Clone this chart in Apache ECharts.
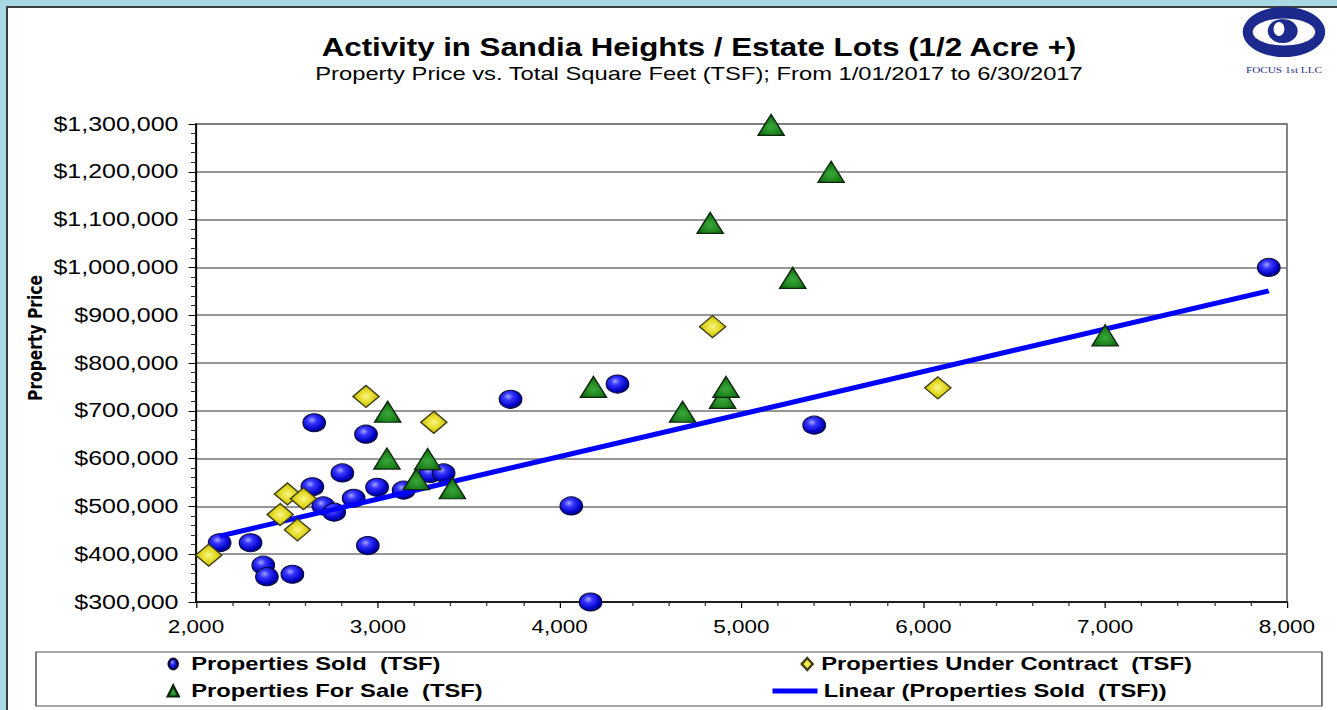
<!DOCTYPE html>
<html>
<head>
<meta charset="utf-8">
<title>Activity in Sandia Heights / Estate Lots</title>
<script src="https://cdn.jsdelivr.net/npm/echarts@6/dist/echarts.min.js"></script>
<style>
  html, body { margin: 0; padding: 0; width: 1337px; height: 710px; overflow: hidden; background: #a9d9e3; }
  #panel { position: absolute; left: 6px; top: 6px; right: 0; bottom: 0; background: #fff;
           border-left: 2px solid #3c3c3c; border-top: 2px solid #3c3c3c; }
  /* the source picture is stretched sideways, so the chart is drawn narrower and widened */
  #chart { position: absolute; left: 0; top: 0; width: 1070px; height: 710px;
           transform: scaleX(1.2495); transform-origin: 0 0; }
</style>
</head>
<body>
<div id="panel"></div>
<div id="chart"></div>
<script>
  // [total square feet, price]
  const soldPoints = [
    [2130, 424000], [2300, 424000], [2370, 377000], [2390, 353000], [2530, 358000],
    [2650, 675000], [2640, 541000], [2700, 501000], [2760, 488000], [2805, 570000],
    [2867, 517000], [2935, 651000], [2945, 418000], [2996, 540000], [3142, 534000],
    [3289, 569000], [3362, 570000], [3730, 724000], [4064, 501000], [4170, 300000],
    [4318, 756000], [5400, 670000], [7900, 1000000]
  ]
  const contractPoints = [
    [2070, 398000], [2463, 483000], [2503, 526000], [2558, 451000], [2591, 516000],
    [2935, 730000], [3308, 676000], [4841, 876000], [6080, 748000]
  ]
  const forSalePoints = [
    [3054, 698000], [3050, 600000], [3212, 557000], [3274, 599000], [3410, 538000],
    [4186, 750000], [4676, 698000], [4896, 727000], [4915, 750000], [4828, 1093000],
    [5163, 1298000], [5282, 978000], [5493, 1200000], [7000, 858000]
  ]
  const trendPoints = [[2130, 438000], [7900, 951000]]

  const xTicks = { min: 2000, max: 8000, step: 1000 }
  const yTicks = { min: 300000, max: 1300000, step: 100000 }

  const soldName = 'Properties Sold \u00a0(TSF)'
  const contractName = 'Properties Under Contract \u00a0(TSF)'
  const forSaleName = 'Properties For Sale \u00a0(TSF)'
  const trendName = 'Linear (Properties Sold \u00a0(TSF))'

  const SX = 1337 / 1070
  const px = v => v / SX
  const commas = v => String(v).replace(/\B(?=(\d{3})+(?!\d))/g, ',')
  const sans = '"Liberation Sans", Arial, sans-serif'

  const blueBall = {
    type: 'radial', x: 0.4, y: 0.35, r: 0.7,
    colorStops: [
      { offset: 0, color: '#a4a4ff' }, { offset: 0.3, color: '#3535ff' },
      { offset: 0.75, color: '#0000c4' }, { offset: 1, color: '#000058' }
    ]
  }
  const yellowGem = {
    type: 'radial', x: 0.5, y: 0.5, r: 0.6,
    colorStops: [
      { offset: 0, color: '#fbf58a' }, { offset: 0.45, color: '#e4dc26' }, { offset: 1, color: '#aca400' }
    ]
  }
  const greenCone = {
    type: 'radial', x: 0.5, y: 0.6, r: 0.65,
    colorStops: [
      { offset: 0, color: '#3aa83a' }, { offset: 0.6, color: '#1b801b' }, { offset: 1, color: '#0a4a0a' }
    ]
  }

  function legendAt(name, icon, iconCx, iconW, iconH, textX, cy) {
    const left = px(iconCx - iconW / 2)
    const iconRight = px(iconCx + iconW / 2)
    return {
      data: [{ name: name, icon: icon }],
      left: left,
      top: cy - 10,
      padding: 0,
      itemWidth: px(iconW),
      itemHeight: iconH,
      selectedMode: false,
      textStyle: {
        fontFamily: sans, fontSize: 19, fontWeight: 'bold', color: '#000', lineHeight: 20,
        padding: [0, 0, 0, Math.max(0, px(textX) - iconRight - 5)]
      }
    }
  }

  const chart = echarts.init(document.getElementById('chart'), null, { renderer: 'svg' })
  chart.setOption({
    animation: false,
    title: {
      text: 'Activity in Sandia Heights / Estate Lots (1/2 Acre +)',
      subtext: 'Property Price vs. Total Square Feet (TSF); From 1/01/2017 to 6/30/2017',
      left: px(699),
      top: 35,
      textAlign: 'center',
      padding: 0,
      itemGap: 4,
      textStyle: { fontFamily: sans, fontSize: 25, fontWeight: 'bold', color: '#000' },
      subtextStyle: { fontFamily: sans, fontSize: 19, color: '#000' }
    },
    legend: [
      legendAt(soldName, 'path://M4,0 A4,6 0 1 1 4,12 A4,6 0 1 1 4,0 Z', 172, 9, 13, 190, 664),
      legendAt(contractName, 'diamond', 806, 11, 12, 820, 664),
      legendAt(forSaleName, 'triangle', 172, 11, 11, 190, 691),
      legendAt(trendName, 'rect', 795, 45, 5, 820, 691)
    ],
    grid: {
      left: px(196), right: px(50), top: 124, bottom: 108,
      show: true, borderColor: '#7a7a7a', borderWidth: 1.5, backgroundColor: 'transparent'
    },
    xAxis: {
      type: 'value',
      min: xTicks.min, max: xTicks.max, interval: xTicks.step,
      axisLine: { show: true, onZero: false, lineStyle: { color: '#000', width: 1.5 } },
      axisTick: { show: true, length: 6, lineStyle: { color: '#000' } },
      minorTick: { show: true, splitNumber: 5, length: 4, lineStyle: { color: '#333', width: 1 } },
      splitLine: { show: false },
      axisLabel: { fontFamily: sans, fontSize: 18, color: '#000', margin: 16, formatter: v => commas(v) }
    },
    yAxis: {
      type: 'value',
      min: yTicks.min, max: yTicks.max, interval: yTicks.step,
      axisLine: { show: true, onZero: false, lineStyle: { color: '#000', width: 1.5 } },
      axisTick: { show: true, length: 6, lineStyle: { color: '#000' } },
      minorTick: { show: true, splitNumber: 5, length: 4, lineStyle: { color: '#333', width: 1 } },
      splitLine: { show: true, lineStyle: { color: '#737373', width: 1.5 } },
      axisLabel: { fontFamily: sans, fontSize: 20, color: '#000', margin: 14, formatter: v => '$' + commas(v) }
    },
    series: [
      {
        name: soldName,
        type: 'scatter',
        z: 2,
        symbol: 'circle',
        symbolSize: 18,
        itemStyle: { color: blueBall, borderColor: '#0a0a3a', borderWidth: 1, opacity: 1 },
        data: soldPoints
      },
      {
        name: trendName,
        type: 'line',
        z: 3,
        showSymbol: false,
        symbol: 'none',
        lineStyle: { color: '#0000ff', width: 5 },
        itemStyle: { color: '#0000ff' },
        data: trendPoints
      },
      {
        name: contractName,
        type: 'scatter',
        z: 4,
        symbol: 'diamond',
        symbolSize: [21, 22],
        itemStyle: { color: yellowGem, borderColor: '#3c3a18', borderWidth: 1.2, opacity: 1 },
        data: contractPoints
      },
      {
        name: forSaleName,
        type: 'scatter',
        z: 4,
        symbol: 'triangle',
        symbolSize: [21, 21],
        itemStyle: { color: greenCone, borderColor: '#0e260e', borderWidth: 1.2, opacity: 1 },
        data: forSalePoints
      }
    ],
    graphic: [
      {
        type: 'rect',
        z: 0,
        shape: { x: px(36), y: 652, width: px(1322 - 36), height: 54 },
        style: { fill: '#fff', stroke: '#555', lineWidth: 1.2 }
      },
      {
        type: 'text',
        x: px(35),
        y: 338,
        rotation: Math.PI / 2,
        style: {
          text: 'Property Price',
          fontFamily: '"DejaVu Sans", sans-serif', fontSize: 15.5, fontWeight: 'bold', fill: '#000',
          align: 'center', verticalAlign: 'middle', textAlign: 'center', textVerticalAlign: 'middle'
        }
      },
      {
        type: 'group',
        x: px(1284),
        y: 32,
        children: [
          { type: 'circle', shape: { cx: 0, cy: 0, r: 33 }, scaleY: 0.76, style: { fill: '#1b2a8c' } },
          { type: 'circle', shape: { cx: 0, cy: 0, r: 25 }, scaleY: 0.54, style: { fill: '#fff' } },
          { type: 'circle', x: -1, y: -1, shape: { cx: 0, cy: 0, r: 12 }, style: { fill: '#1b2a8c' } },
          { type: 'circle', x: -4, y: -3, shape: { cx: 0, cy: 0, r: 7 }, scaleX: 0.62, style: { fill: '#fff' } },
          {
            type: 'text', x: 0, y: 38,
            style: {
              text: 'FOCUS 1st LLC', fontFamily: '"Liberation Serif", serif', fontSize: 9, fill: '#1b2a8c',
              align: 'center', verticalAlign: 'middle', textAlign: 'center', textVerticalAlign: 'middle'
            }
          }
        ]
      }
    ]
  })
</script>
</body>
</html>
